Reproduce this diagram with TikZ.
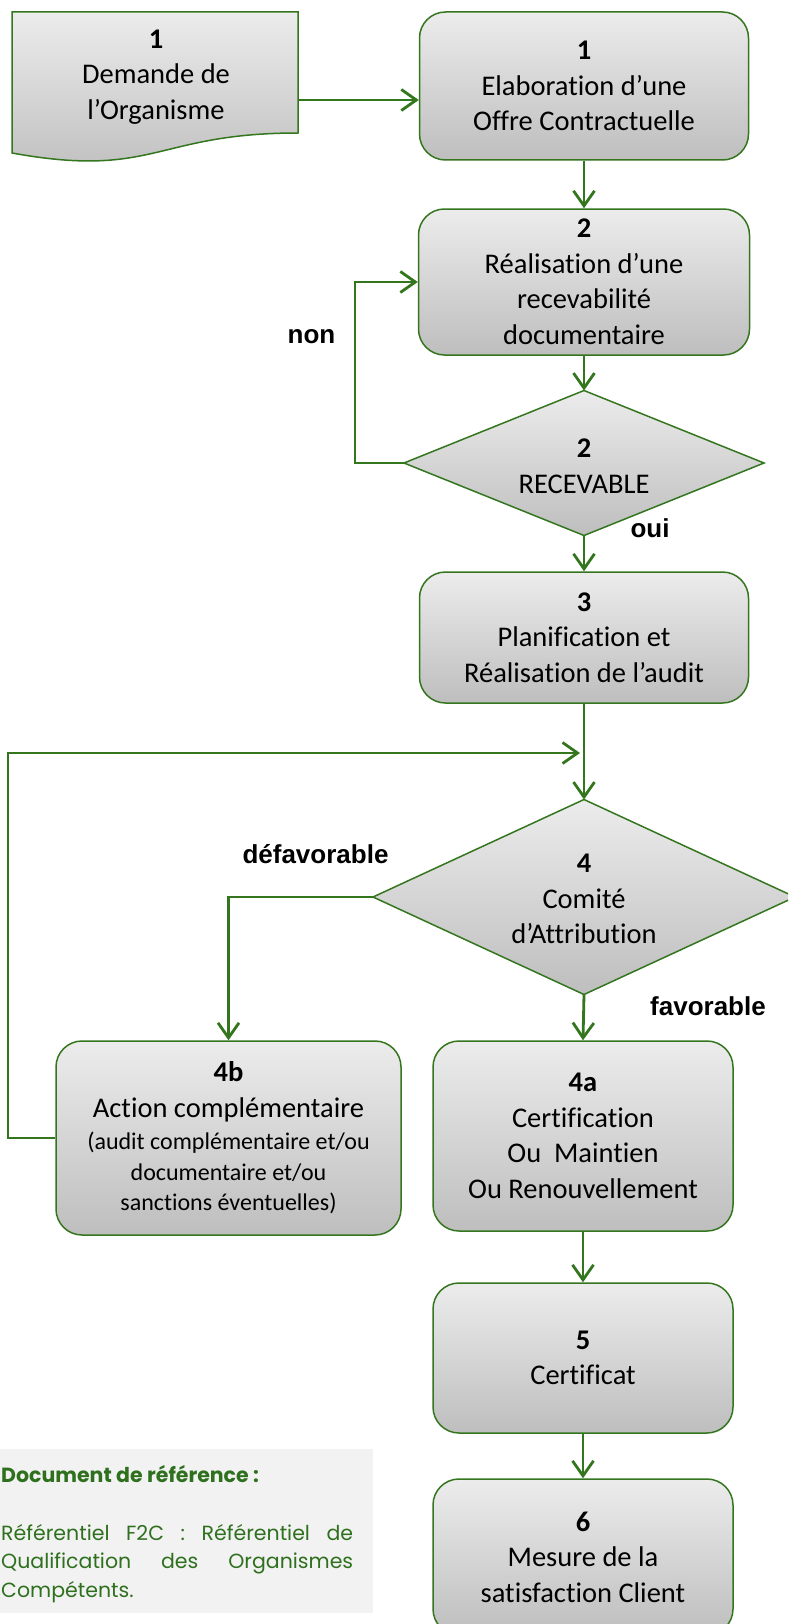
\documentclass[tikz,border=0pt]{standalone}
\usepackage{fontspec}
\setmainfont{Carlito}[Ligatures=NoCommon]
\newfontfamily\labfont{Liberation Sans}
\newfontfamily\docfont{Poppins}
\usetikzlibrary{arrows.meta}
\definecolor{gline}{RGB}{52,118,30}
\definecolor{gtext}{RGB}{46,112,30}
\definecolor{gtop}{RGB}{236,236,236}
\definecolor{gbot}{RGB}{190,190,190}
\definecolor{docbg}{RGB}{242,242,242}
\begin{document}
\begin{tikzpicture}[x=1pt,y=-1pt,
  boxstyle/.style={draw=gline, line width=1.5pt, rounded corners=26pt,
    top color=gtop, bottom color=gbot, align=center, inner sep=0pt,
    font=\fontsize{28.5}{35.5}\selectfont},
  txtstyle/.style={align=center, inner sep=0pt, font=\fontsize{28.5}{35.5}\selectfont},
  shapefill/.style={draw=gline, line width=1.5pt, top color=gtop, bottom color=gbot},
  conn/.style={draw=gline, line width=2.8pt, -{Straight Barb[length=15pt,width=21pt]}},
  lab/.style={anchor=base, inner sep=0pt, font=\labfont\bfseries\fontsize{26}{30}\selectfont},
  reftxt/.style={anchor=base west, inner sep=0pt, text=gtext, font=\docfont\fontsize{20.5}{28}\selectfont}]
\useasboundingbox (0,0) rectangle (788,1624);
\clip (0,0) rectangle (788,1624);
\fill[white] (0,0) rectangle (788,1624);

% document shape
\path[shapefill] (12,12) -- (298,12) -- (298,133) .. controls (155,133) and (155,179) .. (12,153) -- cycle;
\coordinate (deme) at (298,100);
\node[txtstyle] (dem) at (156,77) {\textbf{1}\\Demande de\\l’Organisme};

% boxes
\node[boxstyle, minimum width=329pt, minimum height=148pt] (b1) at (584,86) {\textbf{1}\\Elaboration d’une\\Offre Contractuelle};
\node[boxstyle, minimum width=331pt, minimum height=146pt] (b2) at (584,282) {\textbf{2}\\Réalisation d’une\\recevabilité\\documentaire};

% diamond 2
\coordinate (d2w) at (404,463);
\coordinate (d2n) at (584,390.5);
\coordinate (d2e) at (764,463);
\coordinate (d2s) at (584,535.5);
\path[shapefill] (d2w) -- (d2n) -- (d2e) -- (d2s) -- cycle;
\node[txtstyle] (d2) at (584,466) {\textbf{2}\\RECEVABLE};

\node[boxstyle, minimum width=329pt, minimum height=131pt] (b3) at (584,637.5) {\textbf{3}\\Planification et\\Réalisation de l’audit};

% diamond 4
\coordinate (d4w) at (373,897);
\coordinate (d4n) at (584,799.5);
\coordinate (d4e) at (795,897);
\coordinate (d4s) at (584,994.5);
\path[shapefill] (d4w) -- (d4n) -- (d4e) -- (d4s) -- cycle;
\node[txtstyle] (d4) at (584,899) {\textbf{4}\\Comité\\d’Attribution};

\node[boxstyle, minimum width=345pt, minimum height=194pt] (b4b) at (228.5,1138)
  {\textbf{4b}\\Action complémentaire\\[-3pt]
   {\fontsize{24}{29}\selectfont (audit complémentaire et/ou}\\[-5pt]
   {\fontsize{24}{29}\selectfont documentaire et/ou}\\[-5pt]
   {\fontsize{24}{29}\selectfont sanctions éventuelles)}};
\node[boxstyle, minimum width=300pt, minimum height=190pt] (b4a) at (583,1136) {\textbf{4a}\\Certification\\Ou\ \ Maintien\\Ou Renouvellement};
\node[boxstyle, minimum width=300pt, minimum height=150pt] (b5) at (583,1358) {\textbf{5}\\Certificat};
\node[boxstyle, minimum width=300pt, minimum height=156pt] (b6) at (583,1557) {\textbf{6}\\Mesure de la\\satisfaction Client};

% connectors
\draw[conn] (deme) -- (deme -| b1.west);
\draw[conn] (b1.south) -- (b2.north);
\draw[conn] (b2.south) -- (d2n);
\draw[conn] (d2w) -- (355,463) |- (b2.west);
\draw[conn] (d2s) -- (b3.north);
\draw[conn] (b3.south) -- (d4n);
\coordinate (m) at (580,753);
\draw[conn] (b4b.west) -- (8,1138) |- (m);
\draw[conn] (d4w) -| (b4b.north);
\draw[conn] (d4s) -- (b4a.north);
\draw[conn] (b4a.south) -- (b5.north);
\draw[conn] (b5.south) -- (b6.north);

% labels
\node[lab] (lnon) at (311.5,343) {non};
\node[lab] (loui) at (650,537) {oui};
\node[lab] (ldef) at (315.5,863) {défavorable};
\node[lab] (lfav) at (708,1015) {favorable};

% reference document box
\fill[docbg] (0,1449) rectangle (373,1613);
\node[reftxt] (refh) at (1,1482) {\bfseries Document de référence :};
\node[reftxt] (ref1) at (1,1540) {\hbox to 352pt{Référentiel\hfill F2C\hfill :\hfill Référentiel\hfill de}};
\node[reftxt] (ref2) at (1,1568) {\hbox to 352pt{Qualification\hfill des\hfill Organismes}};
\node[reftxt] (ref3) at (1,1597) {Compétents.};
\end{tikzpicture}
\end{document}
